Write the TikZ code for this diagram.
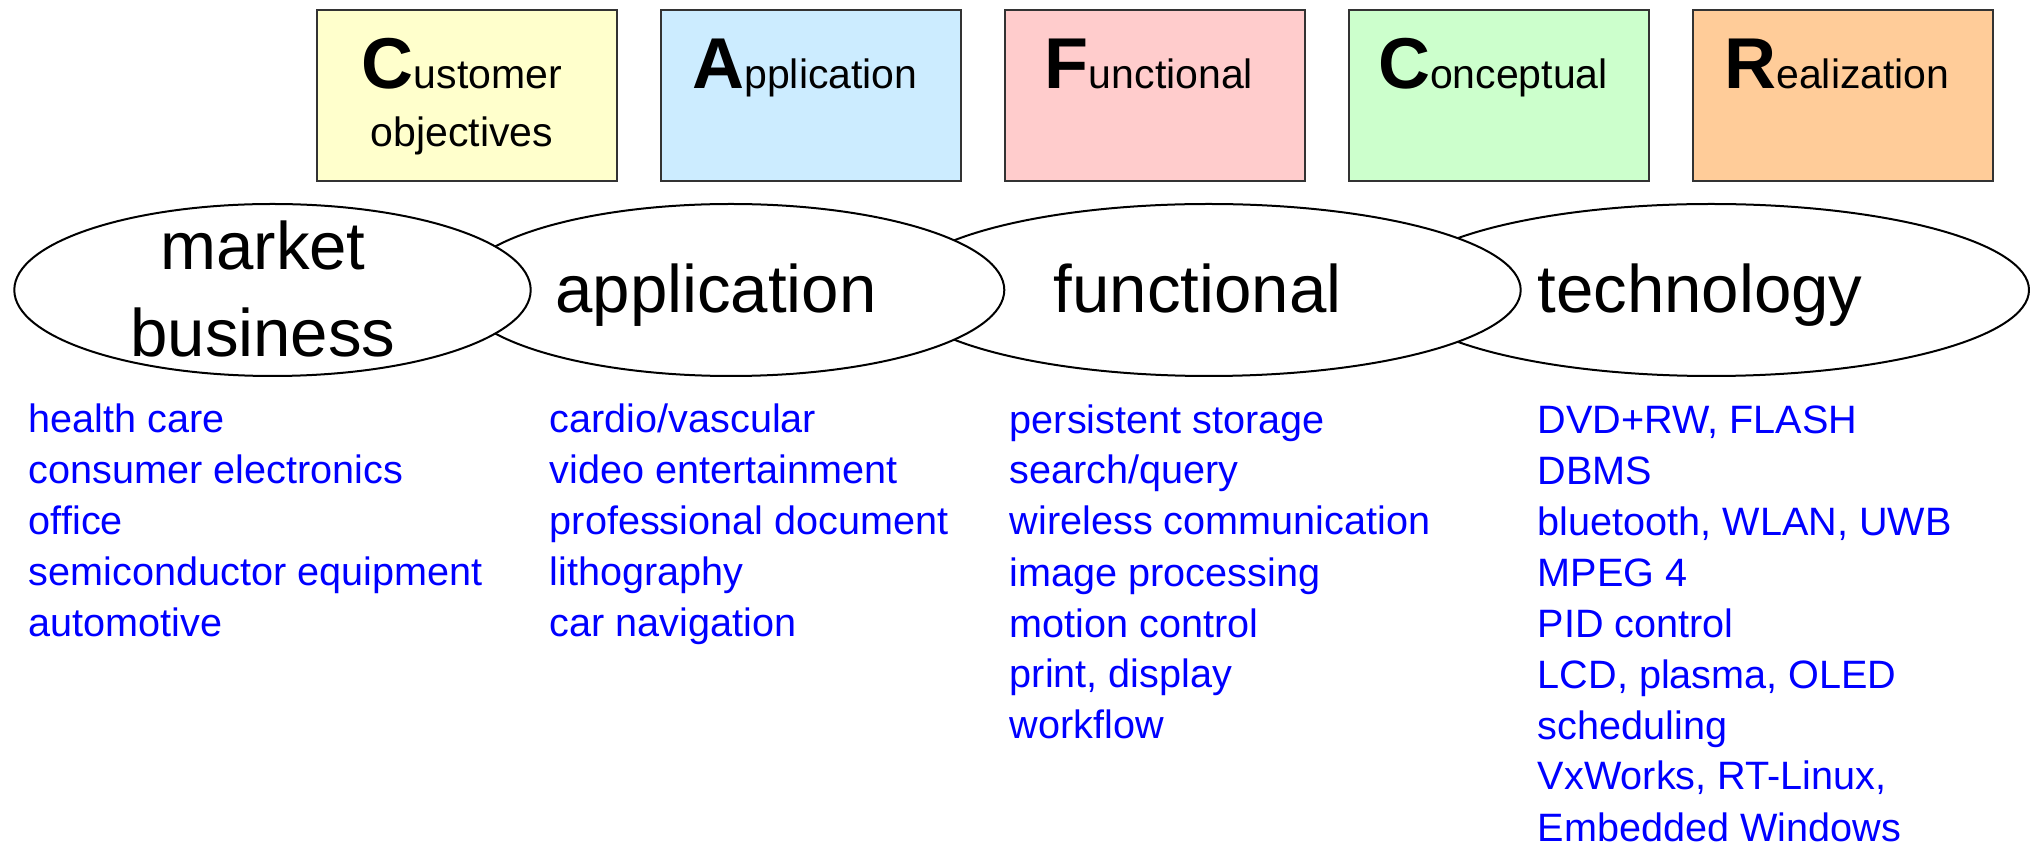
\documentclass[tikz,border=0pt]{standalone}
\usepackage{fontspec}
\setmainfont{Liberation Sans}
\usepackage{xcolor}
\definecolor{custyellow}{RGB}{255,255,204}
\definecolor{applblue}{RGB}{204,236,255}
\definecolor{funcpink}{RGB}{255,204,204}
\definecolor{concgreen}{RGB}{204,255,204}
\definecolor{realorange}{RGB}{255,204,153}
\definecolor{itemblue}{RGB}{ 0,  0,255}
\definecolor{edgegray}{RGB}{ 51, 51, 51}
\usepackage{tikz}
\usetikzlibrary{
  shapes.geometric, positioning, calc
}
\tikzset{
  cafcrbox/.style={draw=edgegray, line width=1pt, minimum width=150pt,
    minimum height=85.5pt, inner sep=0pt},
  boxhead/.style={inner sep=0pt, align=center, anchor=base,
    font=\fontsize{20.5}{29}\selectfont},
  viewpoint/.style={ellipse, draw, fill=white, line width=1pt,
    minimum height=86pt, inner sep=0pt},
  viewword/.style={inner sep=0pt, align=center, anchor=base,
    font=\fontsize{33.6}{43.5}\selectfont},
  examples/.style={inner sep=0pt, align=left, anchor=base west, text=itemblue,
    font=\fontsize{19.8}{25.5}\selectfont}
}
\newcommand{\bigfirst}[1]{{\fontsize{36}{36}\selectfont\bfseries #1}}

\begin{document}
\begin{tikzpicture}[x=0.5pt, y=-0.5pt]
    \useasboundingbox (0,0) rectangle (2030,849);

    % the five CAFCR views
    \node[cafcrbox, fill=custyellow] (cust) at (467,95.5) {};
    \node[cafcrbox, fill=applblue,   right=21pt of cust] (appl) {};
    \node[cafcrbox, fill=funcpink,   right=21pt of appl] (func) {};
    \node[cafcrbox, fill=concgreen,  right=21pt of func] (conc) {};
    \node[cafcrbox, fill=realorange, right=21pt of conc] (real) {};

    % base of a two line node is its last line
    \node[boxhead] (custtxt) at ($(cust.center)+(-5,51.2)$) {\bigfirst{C}ustomer\\objectives};
    \node[boxhead] (appltxt) at ($(appl.center)+(-6,-7.2)$) {\bigfirst{A}pplication};
    \node[boxhead] (functxt) at ($(func.center)+(-6,-7.2)$) {\bigfirst{F}unctional};
    \node[boxhead] (conctxt) at ($(conc.center)+(-6,-7.2)$) {\bigfirst{C}onceptual};
    \node[boxhead] (realtxt) at ($(real.center)+(-6,-7.2)$) {\bigfirst{R}ealization};

    % overlapping viewpoints, drawn right to left
    \node[viewpoint, minimum width=317.7pt] (techv) at (1711.3,290) {};
    \node[viewpoint, minimum width=311.9pt] (funcv) at (1208.8,290) {};
    \node[viewpoint, minimum width=273.3pt] (applv) at (731,290) {};
    \node[viewpoint, minimum width=258.2pt] (mktv)  at (272.5,290) {};

    \node[viewword] (mkttxt)  at (263,357) {market\\business};
    \node[viewword, anchor=base west] (appltxtv) at (555,313) {application};
    \node[viewword, anchor=base west] (functxtv) at (1053.5,313) {functional};
    \node[viewword, anchor=base west] (techtxt)  at (1537,313) {technology};

    % examples per viewpoint, placed by their last line
    \node[examples] (mktlist) at (28.5,637) {health care\\consumer electronics\\office\\
      semiconductor equipment\\automotive};
    \node[examples] (appllist) at (549.5,637) {cardio/vascular\\video entertainment\\
      professional document\\lithography\\car navigation};
    \node[examples] (funclist) at (1009.5,739) {persistent storage\\search/query\\
      wireless communication\\image processing\\motion control\\print, display\\workflow};
    \node[examples] (techlist) at (1537.5,841) {DVD+RW, FLASH\\DBMS\\bluetooth, WLAN, UWB\\
      MPEG 4\\PID control\\LCD, plasma, OLED\\scheduling\\VxWorks, RT-Linux,\\Embedded Windows};
  \end{tikzpicture}
\end{document}
